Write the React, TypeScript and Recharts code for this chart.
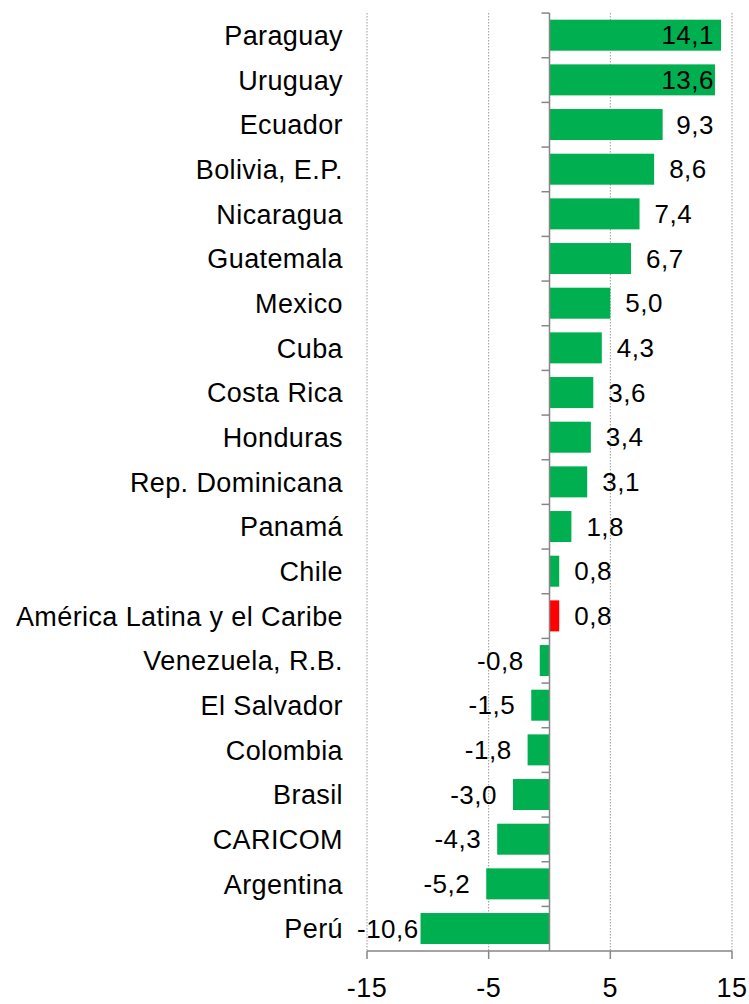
import React from 'react';
import { BarChart, Bar, XAxis, YAxis, CartesianGrid, ReferenceLine, Cell, LabelList } from 'recharts';

const countries = [
  'Paraguay', 'Uruguay', 'Ecuador', 'Bolivia, E.P.', 'Nicaragua', 'Guatemala', 'Mexico', 'Cuba',
  'Costa Rica', 'Honduras', 'Rep. Dominicana', 'Panamá', 'Chile', 'América Latina y el Caribe',
  'Venezuela, R.B.', 'El Salvador', 'Colombia', 'Brasil', 'CARICOM', 'Argentina', 'Perú',
];
const values = [
  14.1, 13.6, 9.3, 8.6, 7.4, 6.7, 5.0, 4.3,
  3.6, 3.4, 3.1, 1.8, 0.8, 0.8,
  -0.8, -1.5, -1.8, -3.0, -4.3, -5.2, -10.6,
];
const highlight = 'América Latina y el Caribe';
const xTicks = [-15, -5, 5, 15];
const xDomain = [-15, 15];

const data = countries.map((name, i) => ({ name, value: values[i] }));

const W = 749;
const H = 1004;
const MARGIN = { top: 13, right: 17, bottom: 0, left: 0 };
const Y_AXIS_W = 367;
const PLOT_LEFT = MARGIN.left + Y_AXIS_W;
const PLOT_RIGHT = W - MARGIN.right;
const GAP = 0.15;
const FONT = '"Liberation Sans", Arial, sans-serif';
const GREEN = '#00B050';
const RED = '#FF0000';
const AXIS = '#868686';

const LABEL_FS = 26;
const LABEL_LS = 0.5;

function textWidth(s: string) {
  let w = 0;
  for (const c of s) w += (c === ',' ? 0.278 : c === '-' ? 0.333 : 0.556) * LABEL_FS + LABEL_LS;
  return w;
}

const renderLabel = (props: any) => {
  const { x, y, width, height, value } = props;
  const v = Number(value);
  const text = v.toFixed(1).replace('.', ',');
  const tw = textWidth(text);
  const x0 = Math.min(x, x + width);
  const x1 = Math.max(x, x + width);
  let left: number;
  if (v >= 0) {
    left = x1 + 15;
    if (left + tw > PLOT_RIGHT - 18) left = PLOT_RIGHT - 18 - tw;
  } else {
    left = x0 - 16 - tw;
    if (left < PLOT_LEFT - 10) left = PLOT_LEFT - 10;
  }
  const cy = y + height / 2;
  return (
    <text
      x={left}
      y={cy}
      dominantBaseline="central"
      fontFamily={FONT}
      fontSize={LABEL_FS}
      letterSpacing={LABEL_LS}
      fill="#000"
    >
      {text}
    </text>
  );
};

const XTick = (props: any) => {
  const { x, y, payload } = props;
  return (
    <text
      x={x}
      y={y}
      textAnchor="middle"
      fontFamily={FONT}
      fontSize={27}
      letterSpacing={0.5}
      fill="#000"
    >
      {String(payload.value)}
    </text>
  );
};

const BarShape = (props: any) => {
  const { x, y, width, height, fill, payload } = props;
  const x0 = Math.min(x, x + width);
  const w = Math.abs(width);
  const v = payload?.value ?? 0;
  const zeroX = v >= 0 ? x0 : x0 + w;
  const bandTop = y - (height * GAP) / (1 - 2 * GAP);
  return (
    <g>
      <rect x={x0} y={y} width={w} height={height} fill={fill} />
      <line x1={zeroX - 8} x2={zeroX} y1={bandTop} y2={bandTop} stroke={AXIS} strokeWidth={1.5} />
    </g>
  );
};

export default function App() {
  return (
    <div style={{ position: 'absolute', left: 0, top: 0, width: W, height: H, fontFamily: FONT, background: '#fff' }}>
      <BarChart
        width={W}
        height={H}
        data={data}
        layout="vertical"
        margin={MARGIN}
        barCategoryGap={`${GAP * 100}%`}
      >
        <CartesianGrid horizontal={false} vertical stroke="#9a9a9a" strokeDasharray="1.5 1.5" />
        <XAxis
          type="number"
          domain={xDomain}
          ticks={xTicks}
          interval={0}
          height={53}
          axisLine={{ stroke: AXIS, strokeWidth: 1.5 }}
          tickLine={{ stroke: AXIS, strokeWidth: 1.5 }}
          tickSize={8}
          tickMargin={38}
          tick={XTick}
        />
        <YAxis
          type="category"
          dataKey="name"
          width={Y_AXIS_W}
          interval={0}
          axisLine={false}
          tickLine={false}
          tickSize={0}
          tickMargin={24}
          tick={{ fill: '#000', fontSize: 27, fontFamily: FONT, letterSpacing: 0.4 }}
        />
        <Bar dataKey="value" isAnimationActive={false} shape={BarShape}>
          {data.map((d) => (
            <Cell key={d.name} fill={d.name === highlight ? RED : GREEN} />
          ))}
          <LabelList dataKey="value" content={renderLabel} />
        </Bar>
        <ReferenceLine x={0} stroke={AXIS} strokeWidth={1.5} />
      </BarChart>
    </div>
  );
}
